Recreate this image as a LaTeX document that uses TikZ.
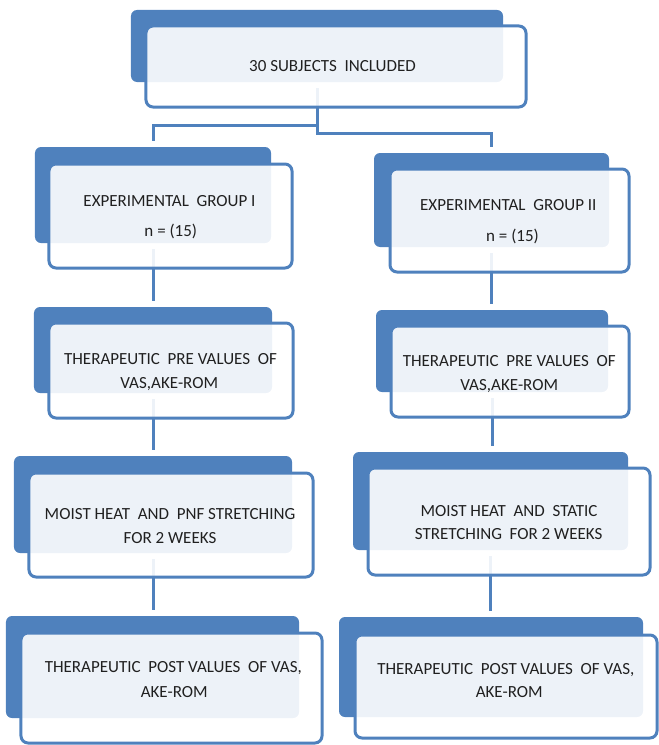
\documentclass[tikz,border=0pt]{standalone}
\usepackage{fontspec}
\setmainfont{Carlito}
\definecolor{ablue}{RGB}{79,129,189}
\definecolor{txtc}{RGB}{32,32,32}
\tikzset{
  backbox/.style={fill=ablue, draw=none, rounded corners=6bp, inner sep=0pt},
  frontbox/.style={draw=ablue, line width=3bp, fill=white, fill opacity=0.9, rounded corners=7bp, inner sep=0pt},
  conn/.style={draw=ablue, line width=3bp},
  txt/.style={anchor=base, inner sep=0pt, font=\fontsize{17bp}{24bp}\selectfont, text=txtc},
}
\newcommand\bbox[6]{\node[#1, minimum width=#5bp, minimum height=#6bp] (#2) at (#3,#4) {};}
\begin{document}
\begin{tikzpicture}[x=1bp,y=-1bp]
\useasboundingbox (0,0) rectangle (659,745);
% back rectangles
\bbox{backbox}{b0}{317}{46}{372}{72}
\bbox{backbox}{g1b}{153}{195}{236}{96}
\bbox{backbox}{g2b}{491.5}{200}{235}{94}
\bbox{backbox}{p1b}{153}{350}{238}{86}
\bbox{backbox}{p2b}{492}{351}{232}{82}
\bbox{backbox}{m1b}{153}{504.5}{278}{97}
\bbox{backbox}{m2b}{490.5}{501}{275}{98}
\bbox{backbox}{t1b}{152.5}{667}{293}{102}
\bbox{backbox}{t2b}{491}{667}{304}{100}
% connectors
\coordinate (jl) at (317,125);
\coordinate (jr) at (317,133);
\draw[conn, shorten <=6bp, shorten >=6bp] (b0.south) -- (jr) -| (g2b.north);
\draw[conn, shorten >=6bp] (jl) -| (g1b.north);
\draw[conn, shorten <=6bp, shorten >=6bp] (g1b.south) -- (g1b.south |- p1b.north);
\draw[conn, shorten <=6bp, shorten >=6bp] (p1b.south) -- (p1b.south |- m1b.north);
\draw[conn, shorten <=6bp, shorten >=6bp] (m1b.south) -- (m1b.south |- t1b.north);
\draw[conn, shorten <=6bp, shorten >=6bp] (g2b.south) -- (g2b.south |- p2b.north);
\draw[conn, shorten <=6bp, shorten >=6bp] (p2b.south) -- (p2b.south |- m2b.north);
\draw[conn, shorten <=6bp, shorten >=6bp] (m2b.south) -- (m2b.south |- t2b.north);
% front boxes
\bbox{frontbox}{b0f}{336}{66.5}{380}{81}
\bbox{frontbox}{g1f}{170.5}{216}{243}{104}
\bbox{frontbox}{g2f}{509.5}{220.5}{239}{103}
\bbox{frontbox}{p1f}{171}{370.5}{244}{95}
\bbox{frontbox}{p2f}{510}{371.5}{238}{91}
\bbox{frontbox}{m1f}{171}{525}{284}{104}
\bbox{frontbox}{m2f}{509}{521.5}{282}{107}
\bbox{frontbox}{t1f}{171.5}{688}{301}{110}
\bbox{frontbox}{t2f}{506}{686.5}{302}{103}
% texts
\node[txt] (x0) at (332.5,71.5) {30 SUBJECTS\ \ INCLUDED};
\node[txt] (g1a) at (169.5,206) {EXPERIMENTAL\ \ GROUP I};
\node[txt] (g1n) at (170.8,236.5) {n = (15)};
\node[txt] (g2a) at (508.3,210) {EXPERIMENTAL\ \ GROUP II};
\node[txt] (g2n) at (512.5,241.5) {n = (15)};
\node[txt] (p1a) at (170.5,364) {THERAPEUTIC\ \ PRE VALUES\ \ OF};
\node[txt] (p1c) at (169.2,388) {VAS,AKE-ROM};
\node[txt] (p2a) at (509.2,366) {THERAPEUTIC\ \ PRE VALUES\ \ OF};
\node[txt] (p2c) at (509.2,390) {VAS,AKE-ROM};
\node[txt] (m1a) at (170,519) {MOIST HEAT\ \ AND\ \ PNF STRETCHING};
\node[txt] (m1c) at (170,543) {FOR 2 WEEKS};
\node[txt] (m2a) at (509,516) {MOIST HEAT\ \ AND\ \ STATIC};
\node[txt] (m2c) at (508.7,539.5) {STRETCHING\ \ FOR 2 WEEKS};
\node[txt] (t1a) at (173.3,672.5) {THERAPEUTIC\ \ POST VALUES\ \ OF VAS,};
\node[txt] (t1c) at (174.2,697.5) {AKE-ROM};
\node[txt] (t2a) at (505.8,674) {THERAPEUTIC\ \ POST VALUES\ \ OF VAS,};
\node[txt] (t2c) at (509.2,697.5) {AKE-ROM};
\end{tikzpicture}
\end{document}
